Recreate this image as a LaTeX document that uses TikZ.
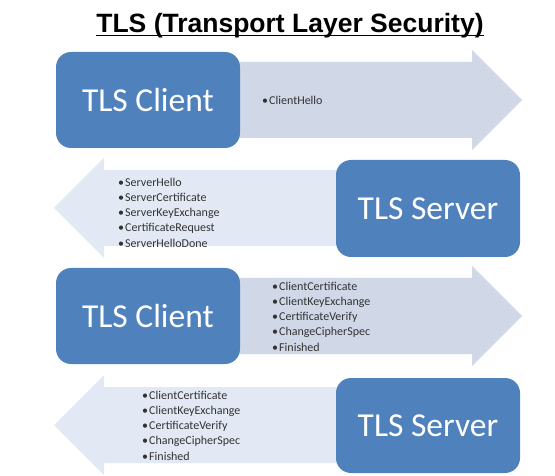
\documentclass[tikz,border=0pt]{standalone}
\usepackage{fontspec}
\setmainfont{Carlito}
\newfontfamily\titlefont{Liberation Sans}
\definecolor{boxblue}{RGB}{79,129,189}
\definecolor{rightfill}{RGB}{208,216,232}
\definecolor{leftfill}{RGB}{227,233,244}
\definecolor{listtext}{RGB}{50,50,50}
\newcommand{\bul}{\makebox[7pt][l]{•}}
\tikzset{
  partybox/.style={fill=boxblue, rounded corners=15pt, draw=none},
  partytext/.style={text=white, font=\fontsize{33.5}{36}\selectfont, inner sep=0pt},
  rarrow/.style={fill=rightfill, draw=none},
  larrow/.style={fill=leftfill, draw=none},
  msglist/.style={anchor=west, align=left, inner sep=0pt, text=listtext,
    font=\fontsize{12}{15.3}\selectfont}
}
\begin{document}
\begin{tikzpicture}[x=1pt,y=-1pt]
\useasboundingbox (0,0) rectangle (555,476);
% title
\node[anchor=base, inner sep=0pt, font=\titlefont\bfseries\fontsize{26.5}{30}\selectfont] (title) at (290,33) {TLS (Transport Layer Security)};
\draw[line width=1.8pt] ([yshift=-2.6pt]title.base west) -- ([yshift=-2.6pt]title.base east);

% arrows
\path[rarrow] (150,62) -- (472,62) -- (472,50) -- (522,100) -- (472,150) -- (472,138) -- (150,138) -- cycle;
\path[larrow] (430,170) -- (104,170) -- (104,158) -- (54,208) -- (104,258) -- (104,246) -- (430,246) -- cycle;
\path[rarrow] (150,278) -- (472,278) -- (472,266) -- (522,316) -- (472,366) -- (472,354) -- (150,354) -- cycle;
\path[larrow] (430,387) -- (104,387) -- (104,375) -- (54,425) -- (104,475) -- (104,463) -- (430,463) -- cycle;

% boxes
\path[partybox] (56,52) rectangle (240,148);
\node[partytext] (c1) at (148,100) {TLS Client};
\path[partybox] (336,160) rectangle (520,257);
\node[partytext] (s1) at (428,208.5) {TLS Server};
\path[partybox] (56,268) rectangle (240,364);
\node[partytext] (c2) at (148,316) {TLS Client};
\path[partybox] (336,378) rectangle (520,473);
\node[partytext] (s2) at (428,425.5) {TLS Server};

% message lists
\node[msglist] (m1) at (262,100) {\bul ClientHello};
\node[msglist] (m2) at (118,212.5) {\bul ServerHello\\ \bul ServerCertificate\\ \bul ServerKeyExchange\\ \bul CertificateRequest\\ \bul ServerHelloDone};
\node[msglist] (m3) at (272,316.5) {\bul ClientCertificate\\ \bul ClientKeyExchange\\ \bul CertificateVerify\\ \bul ChangeCipherSpec\\ \bul Finished};
\node[msglist] (m4) at (142,425.5) {\bul ClientCertificate\\ \bul ClientKeyExchange\\ \bul CertificateVerify\\ \bul ChangeCipherSpec\\ \bul Finished};
\end{tikzpicture}
\end{document}
